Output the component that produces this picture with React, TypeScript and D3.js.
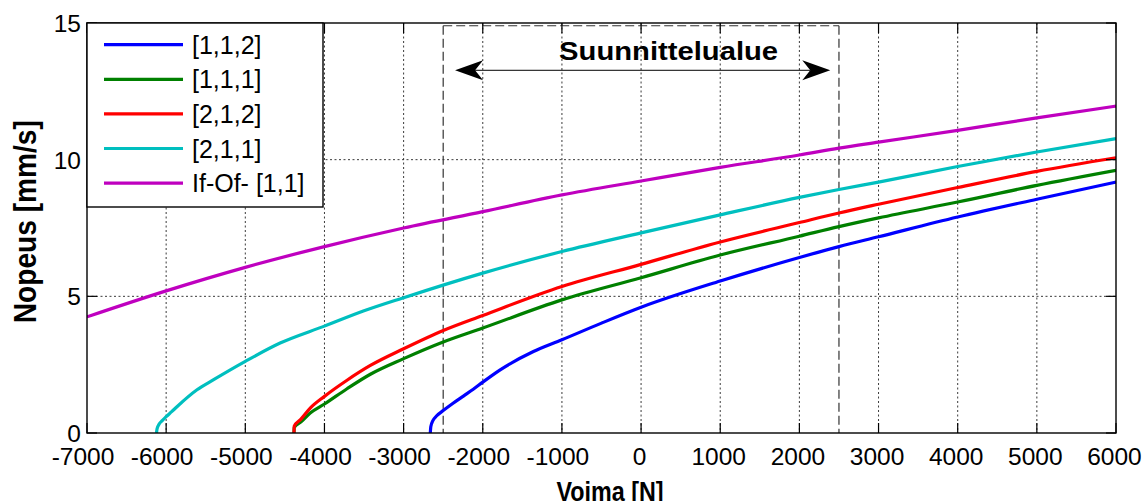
import React from "react";
import * as d3 from "d3";

const WIDTH = 1144;
const HEIGHT = 501;
const MARGIN = { left: 87, right: 28, top: 23, bottom: 68 };

// Axis ticks
const xTicks = [-7000, -6000, -5000, -4000, -3000, -2000, -1000, 0, 1000, 2000, 3000, 4000, 5000, 6000];
const yTicks = [0, 5, 10, 15];

// Series labels and colours
const seriesLabels = ["[1,1,2]", "[1,1,1]", "[2,1,2]", "[2,1,1]", "If-Of- [1,1]"];
const seriesColors = ["#0000ff", "#008000", "#ff0000", "#00bfbf", "#bf00bf"];

// [1,1,2]
const force112 = [-2663, -2656, -2632, -2585, -2500, -2380, -2240, -2120, -2000, -1780, -1360, -1000, -500, 0, 1000, 2000, 2500, 3000, 4000, 5000, 6000];
const speed112 = [0, 0.24, 0.44, 0.62, 0.82, 1.08, 1.36, 1.6, 1.86, 2.31, 2.98, 3.41, 4.02, 4.6, 5.56, 6.42, 6.82, 7.18, 7.9, 8.55, 9.18];

// [1,1,1]
const force111 = [-4385, -4382, -4300, -4180, -4000, -3715, -3420, -3000, -2500, -2000, -1000, 0, 1000, 2000, 2500, 3000, 4000, 5000, 6000];
const speed111 = [0, 0.2, 0.4, 0.73, 1.06, 1.62, 2.15, 2.72, 3.33, 3.84, 4.87, 5.68, 6.51, 7.2, 7.55, 7.87, 8.45, 9.06, 9.61];

// [2,1,2]
const force212 = [-4385, -4382, -4300, -4180, -4000, -3715, -3420, -3000, -2500, -2000, -1000, 0, 1000, 2000, 2500, 3000, 4000, 5000, 6000];
const speed212 = [0, 0.25, 0.5, 0.91, 1.34, 1.93, 2.47, 3.08, 3.75, 4.3, 5.36, 6.17, 6.99, 7.7, 8.05, 8.37, 8.98, 9.57, 10.07];

// [2,1,1]
const force211 = [-6122, -6115, -6090, -6050, -6000, -5930, -5860, -5610, -5400, -5000, -4560, -4000, -3500, -3000, -2000, -1000, 0, 1000, 2000, 2500, 3000, 4000, 5000, 6000];
const speed211 = [0, 0.15, 0.32, 0.45, 0.6, 0.78, 0.97, 1.58, 1.95, 2.62, 3.29, 3.91, 4.47, 4.95, 5.85, 6.64, 7.32, 7.98, 8.62, 8.91, 9.18, 9.75, 10.28, 10.77];

// If-Of- [1,1]
const forceIfOf = [-7000, -6000, -5000, -4000, -3000, -2000, -1000, 0, 1000, 2000, 2500, 3000, 4000, 5000, 6000];
const speedIfOf = [4.25, 5.2, 6.06, 6.82, 7.5, 8.1, 8.71, 9.22, 9.72, 10.17, 10.42, 10.64, 11.07, 11.53, 11.96];

// Design range annotation
const designRange = [-2500, 2500];
const designTop = 14.9;
const arrowSpan = [-2350, 2390];
const arrowLevel = 13.27;
const designLabel = "Suunnittelualue";
const designLabelPos = [348, 13.64];

const seriesForces = [force112, force111, force212, force211, forceIfOf];
const seriesSpeeds = [speed112, speed111, speed212, speed211, speedIfOf];

const FONT = "'Liberation Sans', Arial, Helvetica, sans-serif";

export default function App() {
  const left = MARGIN.left;
  const right = WIDTH - MARGIN.right;
  const top = MARGIN.top;
  const bottom = HEIGHT - MARGIN.bottom;

  const x = d3.scaleLinear().domain([-7000, 6000]).range([left, right]);
  const y = d3.scaleLinear().domain([0, 15]).range([bottom, top]);

  const line = d3
    .line<[number, number]>()
    .x((d) => x(d[0]))
    .y((d) => y(d[1]))
    .curve(d3.curveMonotoneX);

  const series = seriesForces.map((fs, i) =>
    fs.map((f, j) => [f, seriesSpeeds[i][j]] as [number, number])
  );

  const tickLen = 10;
  const gridStyle = { stroke: "#3a3a3a", strokeWidth: 1, strokeDasharray: "2 2.5" };

  // double-headed arrow geometry
  const ax0 = x(arrowSpan[0]);
  const ax1 = x(arrowSpan[1]);
  const ay = y(arrowLevel);
  const headLen = 28;
  const headHalf = 10;
  const notch = 20;
  const leftHead = `M${ax0},${ay} L${ax0 + headLen},${ay - headHalf} L${ax0 + notch},${ay} L${ax0 + headLen},${ay + headHalf} Z`;
  const rightHead = `M${ax1},${ay} L${ax1 - headLen},${ay - headHalf} L${ax1 - notch},${ay} L${ax1 - headLen},${ay + headHalf} Z`;

  // legend layout
  const legX = left;
  const legY = top;
  const legW = 236;
  const legH = 184;
  const legRow0 = 44.7;
  const legStep = 34.6;

  return (
    <svg
      width={WIDTH}
      height={HEIGHT}
      style={{ position: "absolute", left: 0, top: 0, background: "#fff" }}
      fontFamily={FONT}
    >
      <defs>
        <clipPath id="plot-clip">
          <rect x={left} y={top} width={right - left} height={bottom - top} />
        </clipPath>
      </defs>
      <rect x={0} y={0} width={WIDTH} height={HEIGHT} fill="#fff" />

      {/* grid */}
      {xTicks.slice(1, -1).map((t) => (
        <line key={"gx" + t} x1={x(t)} x2={x(t)} y1={top} y2={bottom} {...gridStyle} />
      ))}
      {yTicks.slice(1, -1).map((t) => (
        <line key={"gy" + t} x1={left} x2={right} y1={y(t)} y2={y(t)} {...gridStyle} />
      ))}

      {/* design range box */}
      <g stroke="#333" strokeWidth={1.2} strokeDasharray="9 4" fill="none">
        <line x1={x(designRange[0])} x2={x(designRange[1])} y1={y(designTop)} y2={y(designTop)} />
        <line x1={x(designRange[0])} x2={x(designRange[0])} y1={y(designTop)} y2={bottom} />
        <line x1={x(designRange[1])} x2={x(designRange[1])} y1={y(designTop)} y2={bottom} />
      </g>
      <line x1={ax0 + notch} x2={ax1 - notch} y1={ay} y2={ay} stroke="#000" strokeWidth={1} />
      <path d={leftHead} fill="#000" />
      <path d={rightHead} fill="#000" />
      <text
        x={x(designLabelPos[0])}
        y={y(designLabelPos[1])}
        textAnchor="middle"
        fontSize={26}
        fontWeight="bold"
        textLength={219}
        lengthAdjust="spacingAndGlyphs"
      >
        {designLabel}
      </text>

      {/* curves */}
      <g clipPath="url(#plot-clip)">
        {series.map((pts, i) => (
          <path
            key={seriesLabels[i]}
            d={line(pts) || ""}
            fill="none"
            stroke={seriesColors[i]}
            strokeWidth={3.2}
            strokeLinejoin="round"
          />
        ))}
      </g>

      {/* axes box and ticks */}
      <rect x={left} y={top} width={right - left} height={bottom - top} fill="none" stroke="#000" strokeWidth={1.4} />
      {xTicks.map((t) => (
        <g key={"tx" + t}>
          <line x1={x(t)} x2={x(t)} y1={bottom} y2={bottom - tickLen} stroke="#000" strokeWidth={1.2} />
          <line x1={x(t)} x2={x(t)} y1={top} y2={top + tickLen} stroke="#000" strokeWidth={1.2} />
          <text x={x(t) - (t < 0 ? 4 : 1.5)} y={465} textAnchor="middle" fontSize={24.5} fill="#000">
            {t}
          </text>
        </g>
      ))}
      {yTicks.map((t) => (
        <g key={"ty" + t}>
          <line x1={left} x2={left + tickLen} y1={y(t)} y2={y(t)} stroke="#000" strokeWidth={1.2} />
          <line x1={right} x2={right - tickLen} y1={y(t)} y2={y(t)} stroke="#000" strokeWidth={1.2} />
          <text x={81} y={y(t) + 9} textAnchor="end" fontSize={24.5} fill="#000">
            {t}
          </text>
        </g>
      ))}

      {/* axis titles */}
      <text
        x={610}
        y={501}
        textAnchor="middle"
        fontSize={27}
        fontWeight="bold"
        textLength={107}
        lengthAdjust="spacingAndGlyphs"
      >
        Voima [N]
      </text>
      <text
        transform="translate(36,221.7) rotate(-90)"
        textAnchor="middle"
        fontSize={31}
        fontWeight="bold"
        textLength={203}
        lengthAdjust="spacingAndGlyphs"
      >
        Nopeus [mm/s]
      </text>

      {/* legend */}
      <rect x={legX} y={legY} width={legW} height={legH} fill="#fff" stroke="#000" strokeWidth={1.4} />
      {seriesLabels.map((label, i) => {
        const ly = legY - top + legRow0 + i * legStep;
        return (
          <g key={"leg" + label}>
            <line x1={104} x2={183} y1={ly} y2={ly} stroke={seriesColors[i]} strokeWidth={3.2} />
            <text x={192} y={ly + 9} fontSize={25} fill="#000">
              {label}
            </text>
          </g>
        );
      })}
    </svg>
  );
}
